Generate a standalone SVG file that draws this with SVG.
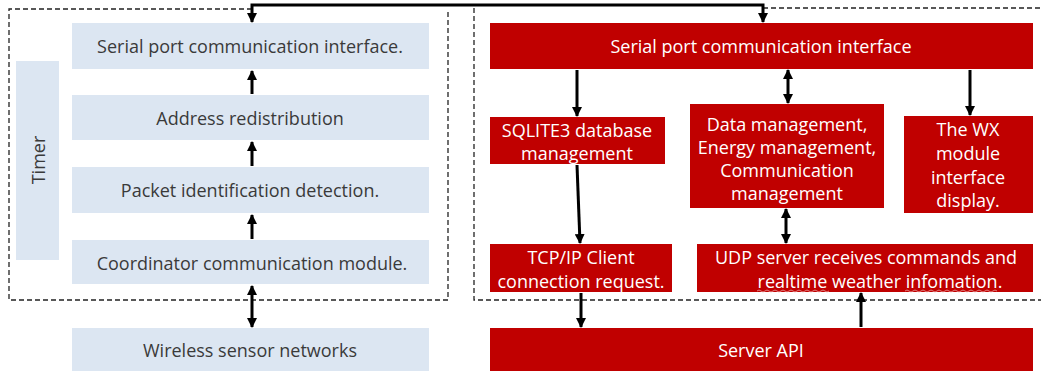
<svg xmlns="http://www.w3.org/2000/svg" width="1041" height="371" viewBox="0 0 1041 371">
<style>
.blue{fill:#dce6f2}
.red{fill:#c00000}
.bt{font-family:"Open Sans","Noto Sans",sans-serif;font-size:18px;fill:#3a3a3a;text-anchor:middle;dominant-baseline:central}
.rt{font-family:"Open Sans","Noto Sans",sans-serif;font-size:18px;fill:#ffffff;text-anchor:middle;dominant-baseline:central}
.dash{fill:none;stroke:#222;stroke-width:1.3;stroke-dasharray:5,3}
.ar{fill:none;stroke:#000;stroke-width:3}
.sq{fill:none;stroke:#e8a0a0;stroke-width:0.8}
</style>
<defs>
<marker id="ah" viewBox="0 0 10 10" refX="9" refY="5" markerWidth="10" markerHeight="10" markerUnits="userSpaceOnUse" orient="auto-start-reverse">
<path d="M0,0 L10,5 L0,10 z" fill="#000"/>
</marker>
</defs>
<rect width="1041" height="371" fill="#fff"/>
<g id="frames">
<path class="dash" d="M252,9 L9,9 L9,300 L448,300 L448,9"/>
<path class="dash" d="M763,8 L1045,8 M474,8 L474,300 L1045,300"/>
</g>
<g id="timer"><rect class="blue" x="16" y="61" width="43" height="199"/><text class="bt" transform="translate(38,160) rotate(-90)">Timer</text></g>
<g id="l1"><rect class="blue" x="72" y="23" width="357" height="46"/><text class="bt" x="250" y="46">Serial port communication interface.</text></g>
<g id="l2"><rect class="blue" x="72" y="95" width="357" height="45"/><text class="bt" x="250" y="118">Address redistribution</text></g>
<g id="l3"><rect class="blue" x="72" y="167" width="357" height="46"/><text class="bt" x="250" y="190">Packet identification detection.</text></g>
<g id="l4"><rect class="blue" x="72" y="240" width="357" height="44"/><text class="bt" x="252" y="263">Coordinator communication module.</text></g>
<g id="l5"><rect class="blue" x="72" y="328" width="357" height="43"/><text class="bt" x="250" y="350">Wireless sensor networks</text></g>
<g id="r1"><rect class="red" x="490" y="23" width="543" height="46"/><text class="rt" x="761" y="46">Serial port communication interface</text></g>
<g id="r2"><rect class="red" x="490" y="117" width="175" height="47"/><text class="rt" x="577" y="130">SQLITE3 database</text><text class="rt" x="577" y="153">management</text></g>
<g id="r3"><rect class="red" x="690" y="104" width="194" height="104"/><text class="rt" x="787" y="124">Data management,</text><text class="rt" x="787" y="147">Energy management,</text><text class="rt" x="787" y="170">Communication</text><text class="rt" x="787" y="193">management</text></g>
<g id="r4"><rect class="red" x="904" y="116" width="129" height="97"/><text class="rt" x="968" y="129">The WX</text><text class="rt" x="968" y="153">module</text><text class="rt" x="968" y="177">interface</text><text class="rt" x="968" y="200">display.</text></g>
<g id="r5"><rect class="red" x="490" y="244" width="182" height="48"/><text class="rt" x="581" y="257">TCP/IP Client</text><text class="rt" x="581" y="281">connection request.</text></g>
<g id="r6"><rect class="red" x="697" y="244" width="336" height="48"/><text class="rt" x="866" y="257">UDP server receives commands and</text><text class="rt" x="880" y="281">realtime weather infomation.</text>
<path class="sq" d="M757,291 q2,-2 4,0 t4,0 t4,0 t4,0 t4,0 t4,0 t4,0 t4,0 t4,0 t4,0 t4,0 t4,0 t4,0 t4,0 t4,0 t4,0 t4,0 t4,0"/>
<path class="sq" d="M905,291 q2,-2 4,0 t4,0 t4,0 t4,0 t4,0 t4,0 t4,0 t4,0 t4,0 t4,0 t4,0 t4,0 t4,0 t4,0 t4,0 t4,0 t4,0 t4,0 t4,0 t4,0 t4,0 t4,0 t4,0"/>
</g>
<g id="r7"><rect class="red" x="490" y="328" width="543" height="43"/><text class="rt" x="761" y="350">Server API</text></g>
<g id="connectors">
<path class="ar" d="M252,22 L252,5 L763,5 L763,22" marker-start="url(#ah)" marker-end="url(#ah)"/>
<path class="ar" d="M252,94 L252,71" marker-end="url(#ah)"/>
<path class="ar" d="M252,166 L252,142" marker-end="url(#ah)"/>
<path class="ar" d="M252,239 L252,215" marker-end="url(#ah)"/>
<path class="ar" d="M252,286 L252,327" marker-start="url(#ah)" marker-end="url(#ah)"/>
<path class="ar" d="M577,70 L577,116" marker-end="url(#ah)"/>
<path class="ar" d="M788,70 L788,103" marker-start="url(#ah)" marker-end="url(#ah)"/>
<path class="ar" d="M970,70 L970,115" marker-end="url(#ah)"/>
<path class="ar" d="M577,165 L580,243" marker-end="url(#ah)"/>
<path class="ar" d="M786,209 L786,243" marker-start="url(#ah)" marker-end="url(#ah)"/>
<path class="ar" d="M581,293 L581,327" marker-end="url(#ah)"/>
<path class="ar" d="M861,327 L861,293" marker-end="url(#ah)"/>
</g>
</svg>
